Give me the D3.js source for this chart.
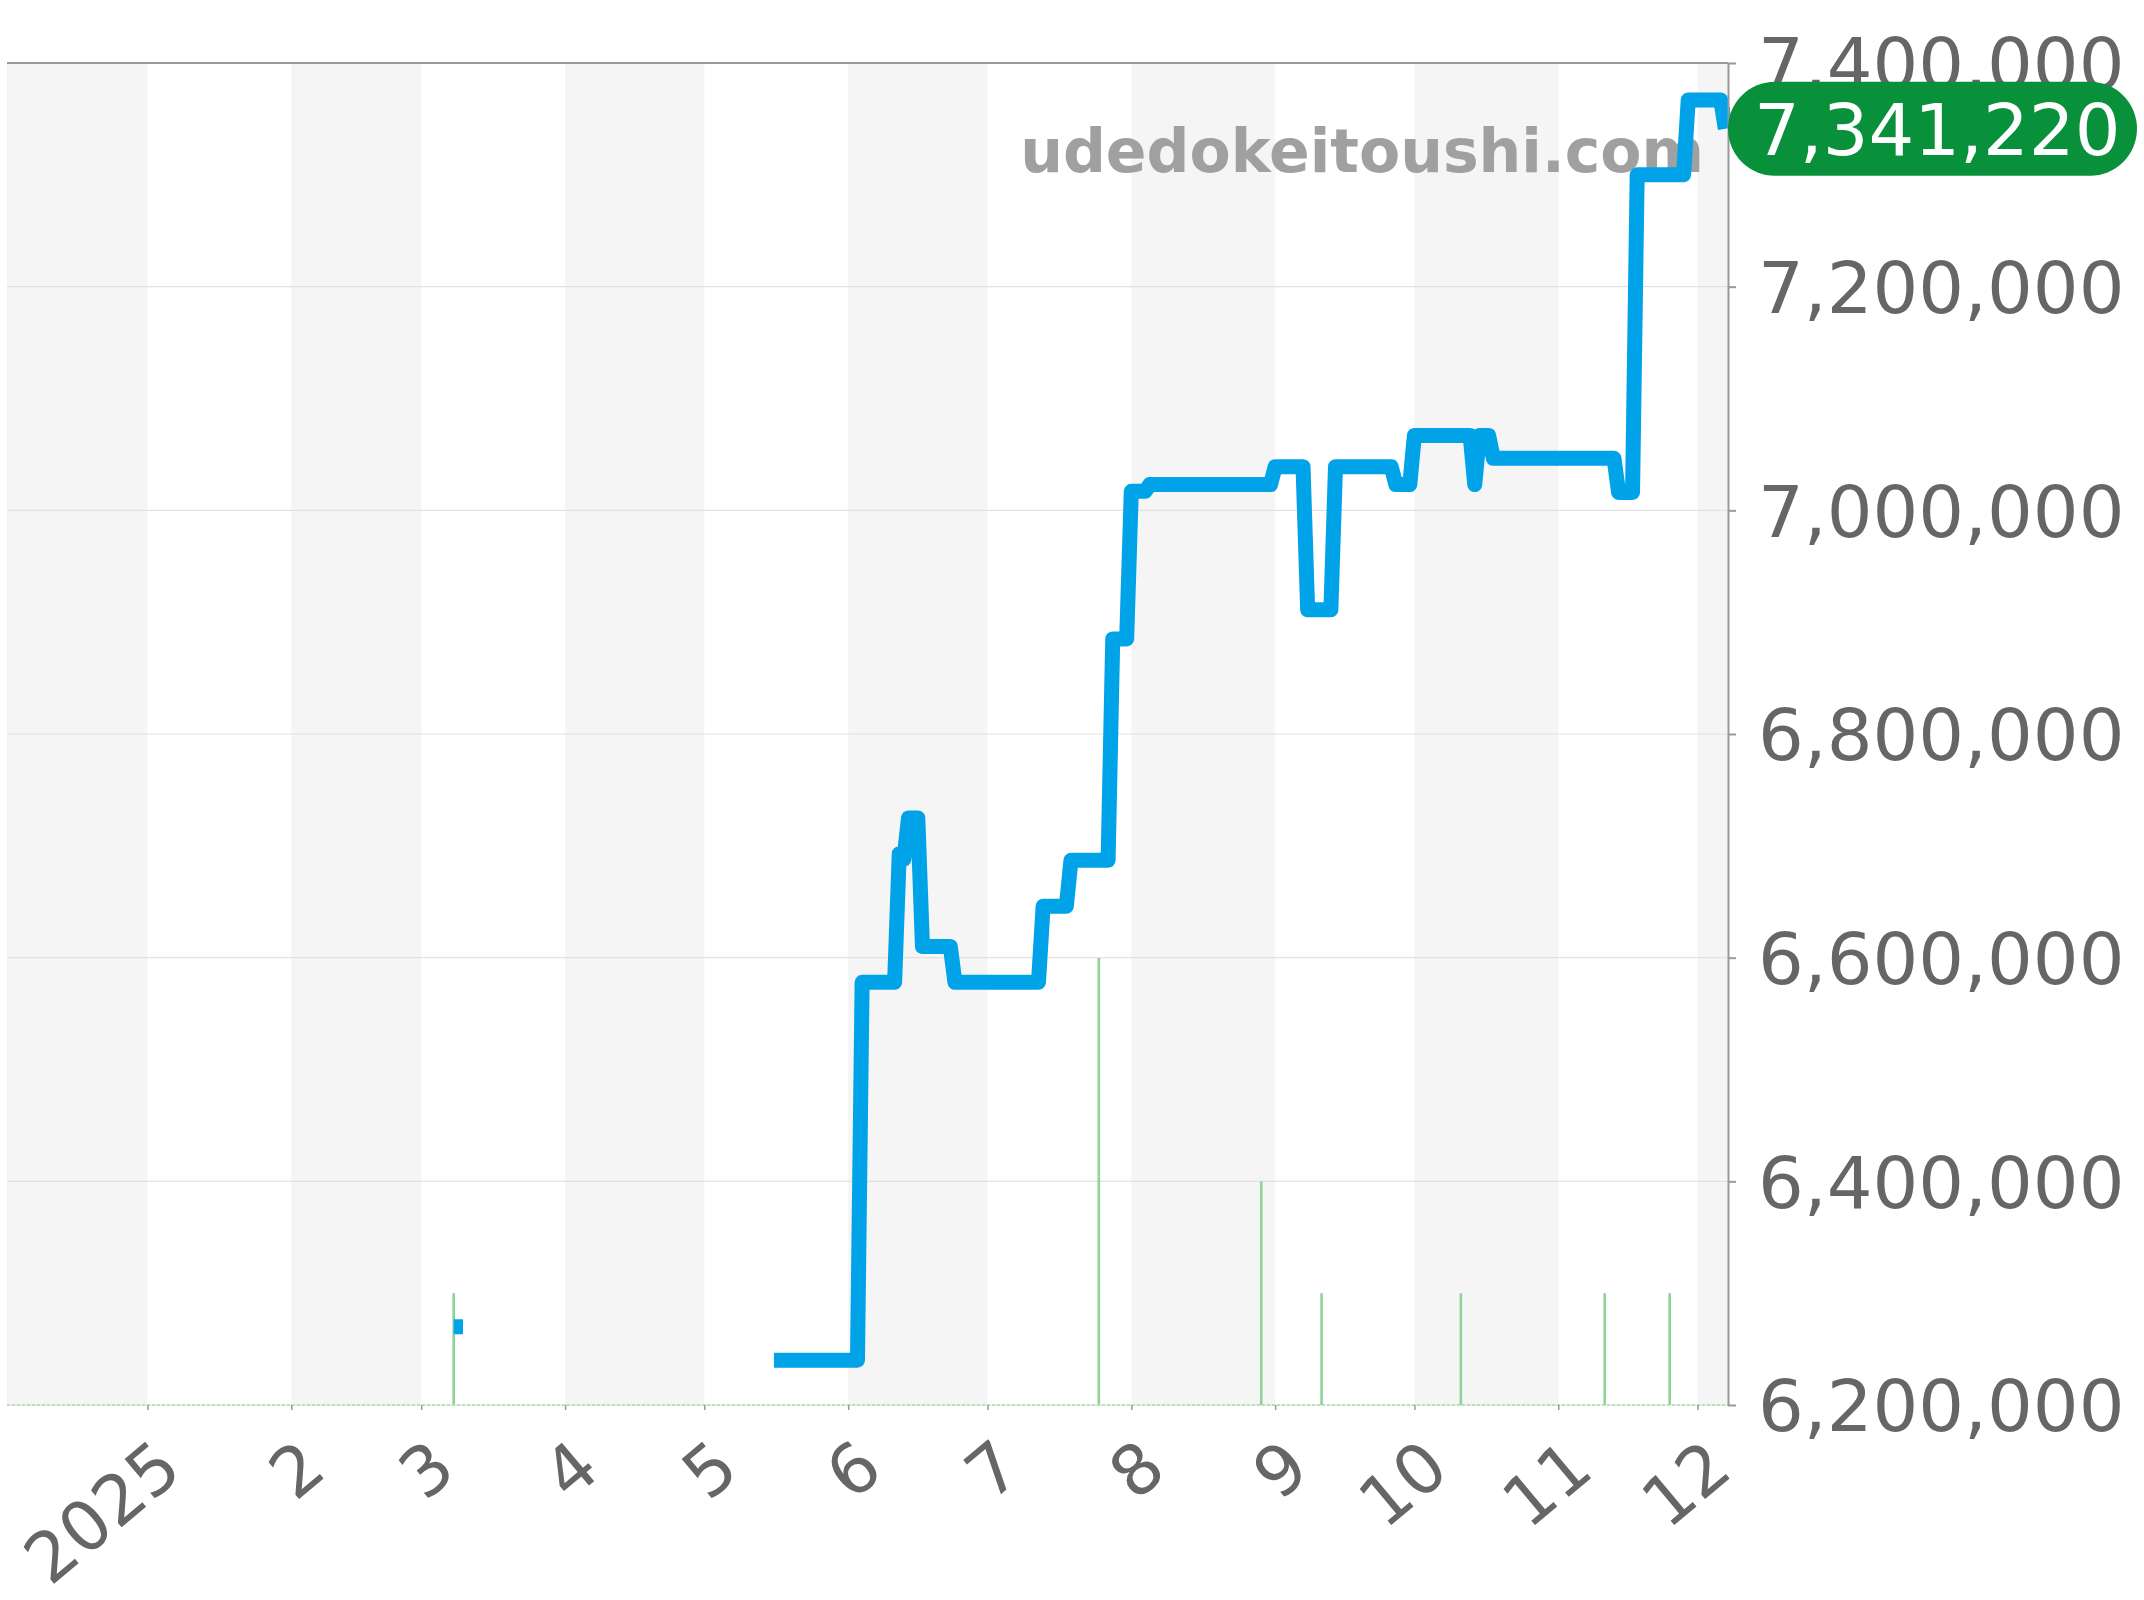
<!DOCTYPE html>
<html>
<head>
<meta charset="utf-8">
<script src="https://cdn.jsdelivr.net/npm/d3@7"></script>
<style>
  html, body { margin: 0; padding: 0; background: #ffffff; }
  svg { display: block; }
  text { font-family: "DejaVu Sans", sans-serif; }
</style>
</head>
<body>
<svg id="chart" width="2144" height="1600"></svg>
<script>
// ---------------- data ----------------
const monthTicks = ["2025-01-01","2025-02-01","2025-03-01","2025-04-01","2025-05-01","2025-06-01",
                    "2025-07-01","2025-08-01","2025-09-01","2025-10-01","2025-11-01","2025-12-01"];
const monthLabels = ["2025","2","3","4","5","6","7","8","9","10","11","12"];
const shadedMonths = ["2024-12-01","2025-02-01","2025-04-01","2025-06-01","2025-08-01","2025-10-01","2025-12-01"];
const yTicks = [6200000, 6400000, 6600000, 6800000, 7000000, 7200000, 7400000];

// price line vertices (null value = gap in the line)
const priceDates = [
  "2025-03-08","2025-03-10","2025-03-11",
  "2025-05-16","2025-06-03",
  "2025-06-04","2025-06-11",
  "2025-06-12","2025-06-13",
  "2025-06-14","2025-06-16",
  "2025-06-17","2025-06-23",
  "2025-06-24","2025-07-12",
  "2025-07-13","2025-07-18",
  "2025-07-19","2025-07-27",
  "2025-07-28","2025-07-31",
  "2025-08-01","2025-08-04",
  "2025-08-05","2025-08-31",
  "2025-09-01","2025-09-07",
  "2025-09-08","2025-09-13",
  "2025-09-14","2025-09-26",
  "2025-09-27","2025-09-30",
  "2025-10-01","2025-10-13",
  "2025-10-14",
  "2025-10-15","2025-10-17",
  "2025-10-18","2025-11-13",
  "2025-11-14","2025-11-17",
  "2025-11-18","2025-11-28",
  "2025-11-29","2025-12-06",
  "2025-12-07"
];
const priceValues = [
  6270000, 6270000, null,
  6240000, 6240000,
  6578000, 6578000,
  6693000, 6688000,
  6725000, 6725000,
  6610000, 6610000,
  6578000, 6578000,
  6646000, 6646000,
  6687000, 6687000,
  6885000, 6885000,
  7017000, 7017000,
  7023000, 7023000,
  7039000, 7039000,
  6911000, 6911000,
  7039000, 7039000,
  7023000, 7023000,
  7067000, 7067000,
  7023000,
  7067000, 7067000,
  7046500, 7046500,
  7016000, 7016000,
  7300000, 7300000,
  7367000, 7367000,
  7341220
];
const lastPrice = 7341220;

// listing counts (green spikes)
const countDates = ["2025-03-08","2025-07-25","2025-08-29","2025-09-11","2025-10-11","2025-11-11","2025-11-25"];
const countValues = [1, 4, 2, 1, 1, 1, 1];

const watermark = "udedokeitoushi.com";

// ---------------- layout ----------------
const parse = d3.timeParse("%Y-%m-%d");
const plotLeft = 7, plotRight = 1730, plotTop = 63, plotBottom = 1405, axisX = 1728;

const svg = d3.select("#chart");
svg.append("rect").attr("width", 2144).attr("height", 1600).attr("fill", "#ffffff");

const x = d3.scaleTime()
  .domain([new Date(2024, 11, 1, 18), new Date(2025, 11, 8, 0)])
  .range([plotLeft, plotRight]);
const y = d3.scaleLinear().domain([6200000, 7400000]).range([plotBottom, plotTop]);
const yCount = d3.scaleLinear().domain([0, 12]).range([plotBottom, plotTop]);

// shaded month bands
svg.append("g").selectAll("rect").data(shadedMonths).join("rect")
  .attr("x", d => Math.max(plotLeft, x(parse(d))))
  .attr("y", plotTop)
  .attr("width", d => {
    const s = parse(d);
    const e = d3.timeMonth.offset(s, 1);
    return Math.max(0, Math.min(axisX, x(e)) - Math.max(plotLeft, x(s)));
  })
  .attr("height", plotBottom - plotTop)
  .attr("fill", "#f5f5f5");

// horizontal gridlines
svg.append("g").selectAll("line").data(yTicks).join("line")
  .attr("x1", plotLeft).attr("x2", axisX)
  .attr("y1", d => y(d)).attr("y2", d => y(d))
  .attr("stroke", d => d === 7400000 ? "#999999" : "#e2e2e2")
  .attr("stroke-width", d => d === 7400000 ? 2 : 1.2);

// green count spikes
svg.append("g").selectAll("line").data(countDates.map((d, i) => ({d: parse(d), v: countValues[i]}))).join("line")
  .attr("x1", d => x(d.d)).attr("x2", d => x(d.d))
  .attr("y1", yCount(0)).attr("y2", d => yCount(d.v))
  .attr("stroke", "#8fd39a").attr("stroke-width", 2.6);

// dotted baseline
svg.append("line")
  .attr("x1", plotLeft).attr("x2", axisX).attr("y1", plotBottom).attr("y2", plotBottom)
  .attr("stroke", "#a6dba8").attr("stroke-width", 1.5).attr("stroke-dasharray", "3,2");

// watermark
svg.append("text")
  .attr("x", 1704).attr("y", 172)
  .attr("text-anchor", "end")
  .attr("font-size", 60).attr("font-weight", "bold")
  .attr("fill", "#a0a0a0")
  .text(watermark);

// price line
const priceData = priceDates.map((d, i) => ({d: parse(d), v: priceValues[i]}));
const line = d3.line()
  .defined(d => d.v !== null)
  .x(d => x(d.d)).y(d => y(d.v));
svg.append("path").datum(priceData)
  .attr("d", line)
  .attr("fill", "none")
  .attr("stroke", "#00a2e8")
  .attr("stroke-width", 15)
  .attr("stroke-linejoin", "round")
  .attr("stroke-linecap", "butt");

// x axis
const xAxis = d3.axisBottom(x)
  .tickValues(monthTicks.map(parse))
  .tickFormat((d, i) => monthLabels[i])
  .tickSize(5).tickSizeOuter(0);
const gx = svg.append("g").attr("transform", `translate(0,${plotBottom})`).call(xAxis);
gx.select(".domain").remove();
gx.selectAll(".tick line").attr("stroke", "#999999").attr("stroke-width", 1.5);
gx.selectAll(".tick text")
  .attr("x", 0).attr("y", 0).attr("dy", 0)
  .attr("transform", "translate(37,69) rotate(-40)")
  .attr("text-anchor", "end")
  .attr("font-size", 69)
  .attr("font-family", "DejaVu Sans, sans-serif")
  .attr("fill", "#666666");

// y axis (right)
const yAxis = d3.axisRight(y)
  .tickValues(yTicks)
  .tickFormat(d3.format(","))
  .tickSize(8).tickPadding(22).tickSizeOuter(0);
const gy = svg.append("g").attr("transform", `translate(${axisX},0)`).call(yAxis);
gy.select(".domain").attr("stroke", "#999999").attr("stroke-width", 2);
gy.selectAll(".tick line").attr("stroke", "#999999").attr("stroke-width", 2);
gy.selectAll(".tick text")
  .attr("dy", "0.36em")
  .attr("font-size", 72)
  .attr("font-family", "DejaVu Sans, sans-serif")
  .attr("fill", "#666666");

// last value badge
const by = y(lastPrice);
svg.append("rect")
  .attr("x", 1728).attr("y", by - 47)
  .attr("width", 409).attr("height", 94)
  .attr("rx", 47).attr("ry", 47)
  .attr("fill", "#08913a");
svg.append("text")
  .attr("x", 1754).attr("y", by).attr("dy", "0.36em")
  .attr("font-size", 72)
  .attr("fill", "#ffffff")
  .text(d3.format(",")(lastPrice));
</script>
</body>
</html>
